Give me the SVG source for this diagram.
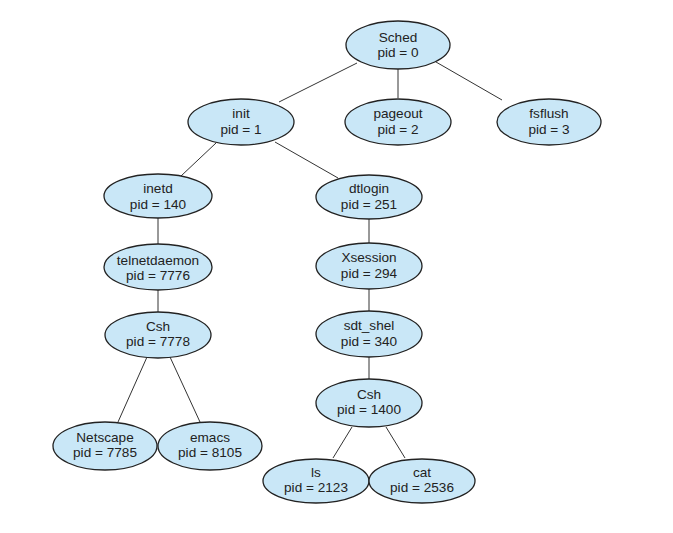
<svg xmlns="http://www.w3.org/2000/svg" width="673" height="533" viewBox="0 0 673 533">
<style>
.n ellipse{fill:#c9e7f7;stroke:#222;stroke-width:1.3}
.n text{font-family:"Liberation Sans",Arial,sans-serif;font-size:13.6px;fill:#222;text-anchor:middle}
#edges line{stroke:#333;stroke-width:1}
</style>
<rect width="673" height="533" fill="#fff"/>
<g id="edges">
<line x1="357" y1="63" x2="279" y2="102"/>
<line x1="398" y1="68" x2="398" y2="98"/>
<line x1="436" y1="62" x2="502" y2="100"/>
<line x1="216" y1="143" x2="181" y2="176"/>
<line x1="275" y1="142" x2="338" y2="178"/>
<line x1="158" y1="218" x2="158" y2="244"/>
<line x1="158" y1="289" x2="158" y2="312"/>
<line x1="147" y1="357" x2="118" y2="422"/>
<line x1="170" y1="357" x2="200" y2="422"/>
<line x1="369" y1="219" x2="369" y2="244"/>
<line x1="369" y1="288" x2="369" y2="312"/>
<line x1="369" y1="356" x2="369" y2="379"/>
<line x1="352" y1="427" x2="333" y2="458"/>
<line x1="386" y1="427" x2="405" y2="458"/>
</g>
<g id="sched" class="n"><ellipse cx="398" cy="45" rx="52" ry="24"/><text x="398" y="42">Sched</text><text x="398" y="57">pid = 0</text></g>
<g id="init" class="n"><ellipse cx="241" cy="122" rx="53" ry="23"/><text x="241" y="118">init</text><text x="241" y="134">pid = 1</text></g>
<g id="pageout" class="n"><ellipse cx="398" cy="122" rx="53" ry="23"/><text x="398" y="118">pageout</text><text x="398" y="134">pid = 2</text></g>
<g id="fsflush" class="n"><ellipse cx="549" cy="122" rx="52" ry="23"/><text x="549" y="118">fsflush</text><text x="549" y="134">pid = 3</text></g>
<g id="inetd" class="n"><ellipse cx="158" cy="196" rx="54" ry="22"/><text x="158" y="193">inetd</text><text x="158" y="209">pid = 140</text></g>
<g id="dtlogin" class="n"><ellipse cx="369" cy="197" rx="53" ry="22"/><text x="369" y="193">dtlogin</text><text x="369" y="209">pid = 251</text></g>
<g id="telnetdaemon" class="n"><ellipse cx="158" cy="267" rx="54" ry="23"/><text x="158" y="265">telnetdaemon</text><text x="158" y="280">pid = 7776</text></g>
<g id="xsession" class="n"><ellipse cx="369" cy="266" rx="53" ry="23"/><text x="369" y="262">Xsession</text><text x="369" y="278">pid = 294</text></g>
<g id="csh1" class="n"><ellipse cx="158" cy="335" rx="53" ry="23"/><text x="158" y="331">Csh</text><text x="158" y="346">pid = 7778</text></g>
<g id="sdt_shel" class="n"><ellipse cx="369" cy="334" rx="53" ry="23"/><text x="369" y="330">sdt_shel</text><text x="369" y="346">pid = 340</text></g>
<g id="csh2" class="n"><ellipse cx="369" cy="403" rx="53" ry="24"/><text x="369" y="399">Csh</text><text x="369" y="414">pid = 1400</text></g>
<g id="netscape" class="n"><ellipse cx="105" cy="446" rx="52" ry="24"/><text x="105" y="442">Netscape</text><text x="105" y="457">pid = 7785</text></g>
<g id="emacs" class="n"><ellipse cx="210" cy="446" rx="52" ry="24"/><text x="210" y="442">emacs</text><text x="210" y="457">pid = 8105</text></g>
<g id="ls" class="n"><ellipse cx="316" cy="481" rx="53" ry="22"/><text x="316" y="477">ls</text><text x="316" y="492">pid = 2123</text></g>
<g id="cat" class="n"><ellipse cx="422" cy="481" rx="53" ry="22"/><text x="422" y="477">cat</text><text x="422" y="492">pid = 2536</text></g>
</svg>
